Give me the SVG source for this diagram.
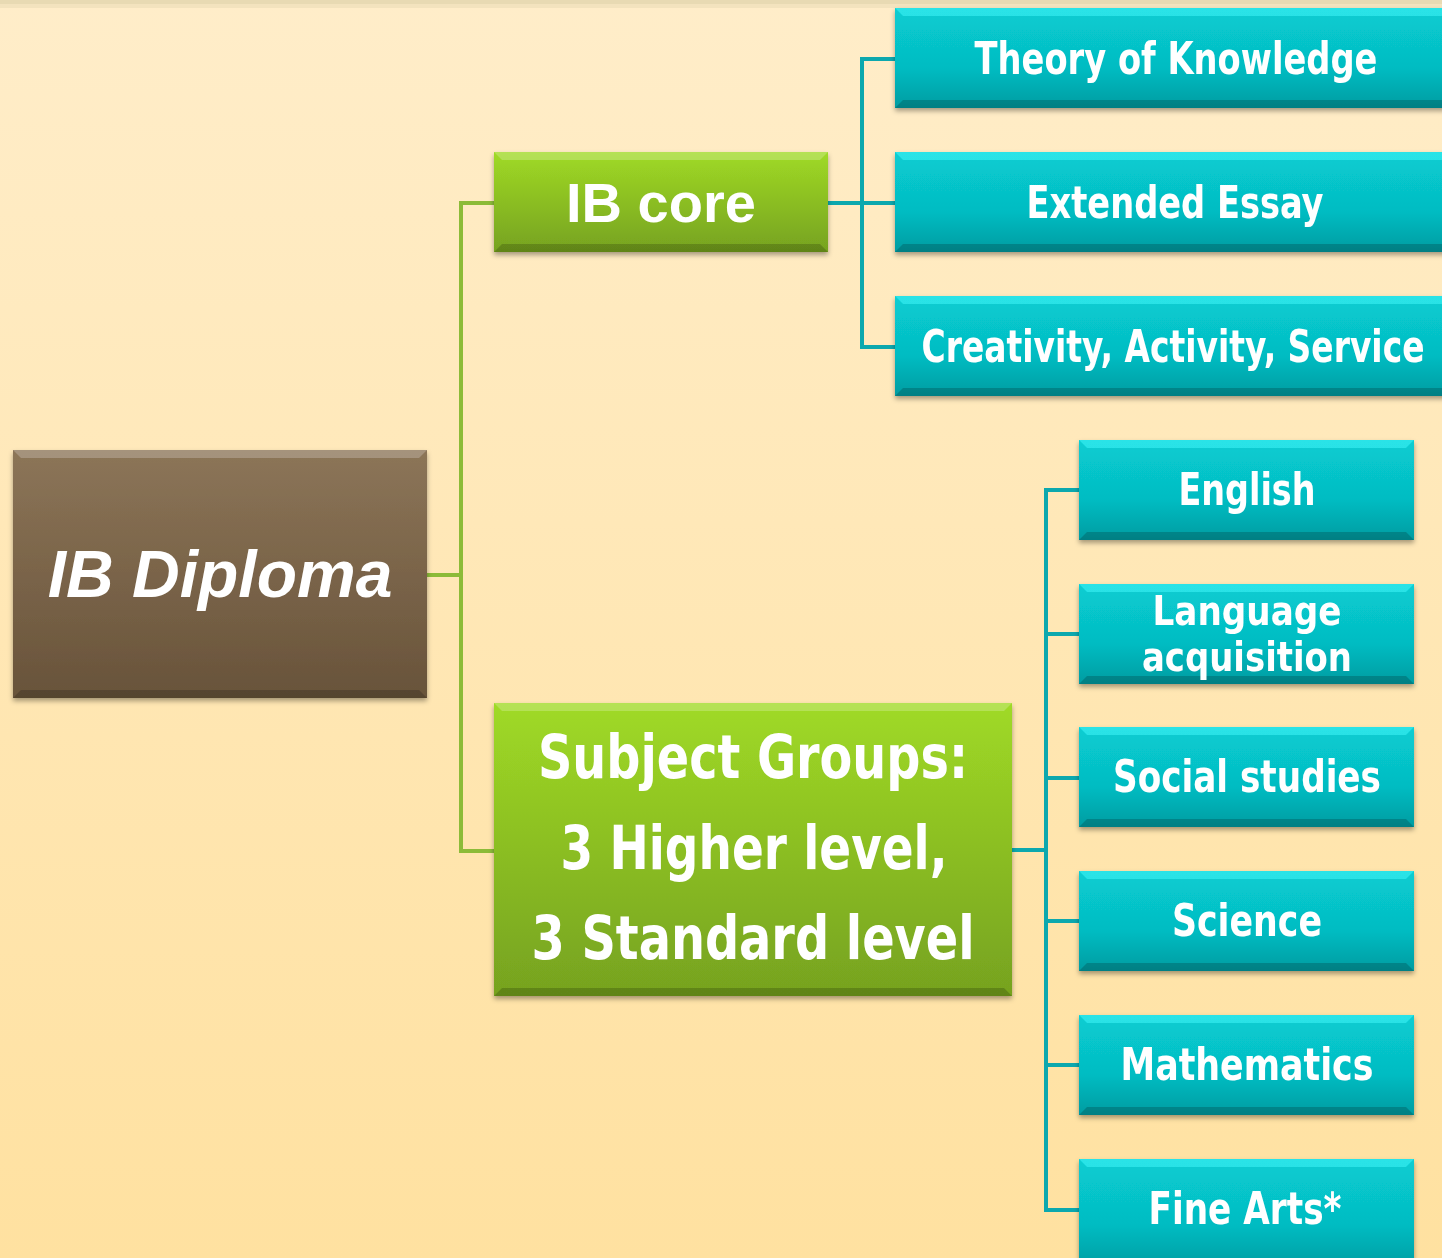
<svg xmlns="http://www.w3.org/2000/svg" width="1442" height="1258" viewBox="0 0 1442 1258">
<defs>
<linearGradient id="bg" x1="0" y1="0" x2="0" y2="1">
<stop offset="0" stop-color="#FFEDC9"/>
<stop offset="1" stop-color="#FFE1A0"/>
</linearGradient>
<linearGradient id="brown" x1="0" y1="0" x2="0" y2="1">
<stop offset="0" stop-color="#8C7558"/>
<stop offset="1" stop-color="#68533A"/>
</linearGradient>
<linearGradient id="green" x1="0" y1="0" x2="0" y2="1">
<stop offset="0" stop-color="#A0DA26"/>
<stop offset="1" stop-color="#76A21F"/>
</linearGradient>
<linearGradient id="cyan" x1="0" y1="0" x2="0" y2="1">
<stop offset="0" stop-color="#08CDD2"/>
<stop offset="0.6" stop-color="#05BCC2"/>
<stop offset="1" stop-color="#049CA1"/>
</linearGradient>
<filter id="sh" x="-10%" y="-10%" width="120%" height="130%">
<feDropShadow dx="0" dy="3" stdDeviation="2.5" flood-color="#000" flood-opacity="0.35"/>
</filter>
</defs>
<style>
.t{fill:#fff;text-anchor:middle;font-family:"DejaVu Sans Condensed","DejaVu Sans","Liberation Sans",sans-serif;font-weight:bold}
.c{fill:none;stroke-width:4;stroke-linejoin:miter}
.hl{fill:#fff;opacity:0.22}
.cy{fill:#3FF2F5;opacity:0.6}
.dk{fill:#000;opacity:0.18}
</style>
<rect width="1442" height="1258" fill="url(#bg)"/>
<rect width="1442" height="4" fill="#E8DAB3"/>
<rect y="4" width="1442" height="4" fill="#F3E3BE"/>

<g id="connectors">
<path class="c" stroke="#8CBB38" d="M427 575 H461 M461 201 V853 M459 203 H494 M459 851 H494"/>
<path class="c" stroke="#0CA8AE" d="M828 203 H895 M862 57 V349 M860 59 H895 M860 347 H895"/>
<path class="c" stroke="#0CA8AE" d="M1012 850 H1046 M1046 488 V1212 M1044 490 H1079 M1046 634 H1079 M1046 778 H1079 M1046 921 H1079 M1046 1065 H1079 M1044 1210 H1079"/>
</g>

<g id="ib-diploma" filter="url(#sh)">
<rect x="13" y="450" width="414" height="248" fill="url(#brown)"/>
<polygon class="hl" points="13,450 427,450 419,458 21,458"/>
<polygon class="dk" points="13,698 427,698 419,690 21,690"/>
<text x="220" y="597" fill="#fff" text-anchor="middle" font-family="Liberation Sans,Arial,sans-serif" font-weight="bold" font-style="italic" font-size="66">IB Diploma</text>
</g>

<g id="ib-core" filter="url(#sh)">
<rect x="494" y="152" width="334" height="100" fill="url(#green)"/>
<polygon class="hl" points="494,152 828,152 820,160 502,160"/>
<polygon class="dk" points="494,252 828,252 820,244 502,244"/>
<text x="661" y="222" fill="#fff" text-anchor="middle" font-family="Liberation Sans,Arial,sans-serif" font-weight="bold" font-size="56">IB core</text>
</g>

<g id="subject-groups" filter="url(#sh)">
<rect x="494" y="703" width="518" height="293" fill="url(#green)"/>
<polygon class="hl" points="494,703 1012,703 1004,711 502,711"/>
<polygon class="dk" points="494,996 1012,996 1004,988 502,988"/>
<text class="t" x="753" y="778" font-size="60" textLength="430" lengthAdjust="spacingAndGlyphs">Subject Groups:</text>
<text class="t" x="754" y="869" font-size="60" textLength="387" lengthAdjust="spacingAndGlyphs">3 Higher level,</text>
<text class="t" x="753" y="959" font-size="60" textLength="443" lengthAdjust="spacingAndGlyphs">3 Standard level</text>
</g>

<g id="tok" filter="url(#sh)">
<rect x="895" y="8" width="560" height="100" fill="url(#cyan)"/>
<polygon class="cy" points="895,8 1450,8 1450,16 903,16"/>
<polygon class="dk" points="895,108 1450,108 1450,100 903,100"/>
<text class="t" x="1176" y="74" font-size="44" textLength="403" lengthAdjust="spacingAndGlyphs">Theory of Knowledge</text>
</g>

<g id="ee" filter="url(#sh)">
<rect x="895" y="152" width="560" height="100" fill="url(#cyan)"/>
<polygon class="cy" points="895,152 1450,152 1450,160 903,160"/>
<polygon class="dk" points="895,252 1450,252 1450,244 903,244"/>
<text class="t" x="1175" y="218" font-size="44" textLength="297" lengthAdjust="spacingAndGlyphs">Extended Essay</text>
</g>

<g id="cas" filter="url(#sh)">
<rect x="895" y="296" width="560" height="100" fill="url(#cyan)"/>
<polygon class="cy" points="895,296 1450,296 1450,304 903,304"/>
<polygon class="dk" points="895,396 1450,396 1450,388 903,388"/>
<text class="t" x="1173" y="362" font-size="44" textLength="503" lengthAdjust="spacingAndGlyphs">Creativity, Activity, Service</text>
</g>

<g id="english" filter="url(#sh)">
<rect x="1079" y="440" width="335" height="100" fill="url(#cyan)"/>
<polygon class="cy" points="1079,440 1414,440 1406,448 1087,448"/>
<polygon class="dk" points="1079,540 1414,540 1406,532 1087,532"/>
<text class="t" x="1247" y="505" font-size="44" textLength="137" lengthAdjust="spacingAndGlyphs">English</text>
</g>

<g id="language" filter="url(#sh)">
<rect x="1079" y="584" width="335" height="100" fill="url(#cyan)"/>
<polygon class="cy" points="1079,584 1414,584 1406,592 1087,592"/>
<polygon class="dk" points="1079,684 1414,684 1406,676 1087,676"/>
<text class="t" x="1247" y="625" font-size="41" textLength="189" lengthAdjust="spacingAndGlyphs">Language</text>
<text class="t" x="1247" y="671" font-size="41" textLength="210" lengthAdjust="spacingAndGlyphs">acquisition</text>
</g>

<g id="social" filter="url(#sh)">
<rect x="1079" y="727" width="335" height="100" fill="url(#cyan)"/>
<polygon class="cy" points="1079,727 1414,727 1406,735 1087,735"/>
<polygon class="dk" points="1079,827 1414,827 1406,819 1087,819"/>
<text class="t" x="1247" y="792" font-size="44" textLength="268" lengthAdjust="spacingAndGlyphs">Social studies</text>
</g>

<g id="science" filter="url(#sh)">
<rect x="1079" y="871" width="335" height="100" fill="url(#cyan)"/>
<polygon class="cy" points="1079,871 1414,871 1406,879 1087,879"/>
<polygon class="dk" points="1079,971 1414,971 1406,963 1087,963"/>
<text class="t" x="1247" y="936" font-size="44" textLength="150" lengthAdjust="spacingAndGlyphs">Science</text>
</g>

<g id="math" filter="url(#sh)">
<rect x="1079" y="1015" width="335" height="100" fill="url(#cyan)"/>
<polygon class="cy" points="1079,1015 1414,1015 1406,1023 1087,1023"/>
<polygon class="dk" points="1079,1115 1414,1115 1406,1107 1087,1107"/>
<text class="t" x="1247" y="1080" font-size="44" textLength="253" lengthAdjust="spacingAndGlyphs">Mathematics</text>
</g>

<g id="fine-arts" filter="url(#sh)">
<rect x="1079" y="1159" width="335" height="110" fill="url(#cyan)"/>
<polygon class="cy" points="1079,1159 1414,1159 1406,1167 1087,1167"/>
<text class="t" x="1245" y="1224" font-size="44" textLength="193" lengthAdjust="spacingAndGlyphs">Fine Arts*</text>
</g>
</svg>
